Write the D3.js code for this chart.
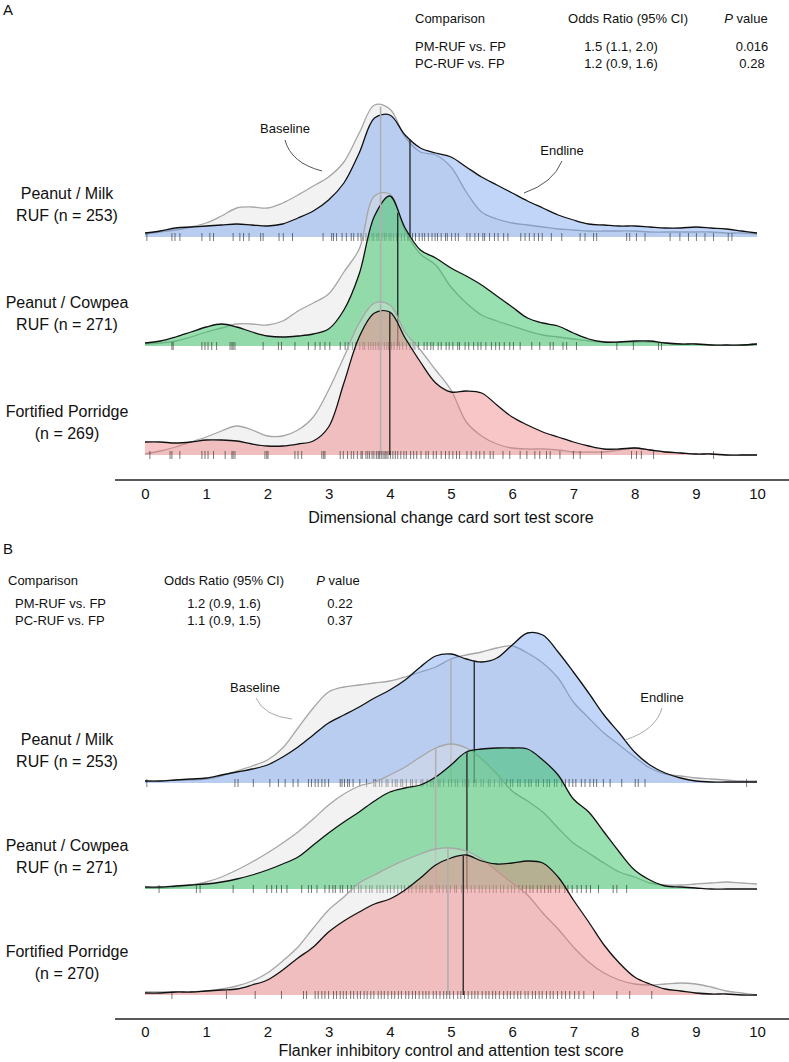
<!DOCTYPE html>
<html><head><meta charset="utf-8">
<script src="https://cdn.jsdelivr.net/npm/d3@7"></script>
<style>
body{margin:0;background:#fff}
svg{display:block}
text{font-family:"Liberation Sans",Arial,Helvetica,sans-serif;fill:#111}
</style>
</head><body>
<svg id="chart" width="789" height="1062"></svg>
<script>
// ---------------- DATA ----------------
const groups = ["Peanut / Milk", "Peanut / Cowpea", "Fortified Porridge"];
const groupLabelsA = [["Peanut / Milk", "RUF (n = 253)"], ["Peanut / Cowpea", "RUF (n = 271)"], ["Fortified Porridge", "(n = 269)"]];
const groupLabelsB = [["Peanut / Milk", "RUF (n = 253)"], ["Peanut / Cowpea", "RUF (n = 271)"], ["Fortified Porridge", "(n = 270)"]];
const xTicks = [0,1,2,3,4,5,6,7,8,9,10];
const scoreGrid = [0,0.25,0.5,0.75,1,1.25,1.5,1.75,2,2.25,2.5,2.75,3,3.25,3.5,3.75,4,4.25,4.5,4.75,5,5.25,5.5,5.75,6,6.25,6.5,6.75,7,7.25,7.5,7.75,8,8.25,8.5,8.75,9,9.25,9.5,9.75,10];

// Panel A: Dimensional change card sort — densities on scoreGrid
const dccsBaselinePM = [0.012,0.02,0.028,0.04,0.056,0.084,0.116,0.12,0.116,0.136,0.168,0.204,0.24,0.3,0.416,0.528,0.512,0.4,0.34,0.328,0.28,0.18,0.1,0.072,0.056,0.048,0.04,0.032,0.028,0.024,0.024,0.024,0.024,0.02,0.02,0.02,0.02,0.02,0.016,0.016,0.012];
const dccsEndlinePM  = [0.016,0.024,0.036,0.04,0.044,0.048,0.052,0.048,0.044,0.052,0.076,0.104,0.148,0.216,0.336,0.476,0.488,0.408,0.356,0.336,0.32,0.28,0.24,0.208,0.176,0.144,0.116,0.088,0.068,0.052,0.048,0.044,0.044,0.04,0.036,0.036,0.04,0.036,0.032,0.024,0.016];
const dccsBaselinePC = [0.008,0.012,0.02,0.036,0.056,0.072,0.088,0.088,0.084,0.1,0.14,0.172,0.208,0.296,0.388,0.6,0.608,0.46,0.368,0.324,0.236,0.172,0.124,0.1,0.08,0.06,0.044,0.036,0.028,0.02,0.016,0.016,0.016,0.016,0.012,0.008,0.008,0.004,0.004,0.004,0.008];
const dccsEndlinePC  = [0.012,0.02,0.036,0.056,0.076,0.088,0.076,0.056,0.04,0.036,0.04,0.048,0.068,0.144,0.288,0.52,0.6,0.472,0.384,0.352,0.312,0.28,0.244,0.2,0.156,0.112,0.092,0.08,0.052,0.028,0.016,0.016,0.02,0.02,0.012,0.008,0.008,0.004,0.004,0.004,0.008];
const dccsBaselineFP = [0.004,0.016,0.032,0.052,0.072,0.096,0.116,0.1,0.076,0.076,0.1,0.152,0.26,0.392,0.528,0.608,0.6,0.492,0.42,0.34,0.26,0.132,0.076,0.044,0.028,0.024,0.024,0.02,0.012,0.012,0.012,0.02,0.028,0.02,0.012,0.008,0.004,0.004,0,0,0];
const dccsEndlineFP  = [0.052,0.052,0.048,0.052,0.06,0.06,0.056,0.044,0.036,0.036,0.044,0.056,0.112,0.288,0.472,0.568,0.572,0.468,0.372,0.288,0.252,0.256,0.248,0.2,0.152,0.12,0.092,0.072,0.052,0.036,0.024,0.024,0.028,0.02,0.012,0.008,0.004,0.004,0,0,0];
const dccsMedBaseline = [3.85, 3.85, 3.85];
const dccsMedEndline  = [4.33, 4.13, 4.0];

// Panel B: Flanker — densities on scoreGrid
const flkBaselinePM = [0.004,0.004,0.006,0.006,0.008,0.014,0.024,0.034,0.046,0.07,0.11,0.15,0.182,0.192,0.196,0.2,0.204,0.212,0.222,0.232,0.248,0.256,0.262,0.27,0.274,0.26,0.24,0.21,0.162,0.13,0.1,0.076,0.052,0.03,0.018,0.014,0.01,0.008,0.006,0.004,0.004];
const flkEndlinePM  = [0.004,0.004,0.006,0.008,0.01,0.016,0.022,0.028,0.036,0.052,0.072,0.096,0.12,0.136,0.152,0.17,0.186,0.206,0.232,0.254,0.258,0.248,0.242,0.25,0.276,0.3,0.296,0.262,0.222,0.18,0.136,0.1,0.062,0.036,0.02,0.01,0.004,0.002,0.002,0.002,0.002];
const flkBaselinePC = [0.002,0.002,0.004,0.008,0.014,0.024,0.038,0.054,0.072,0.092,0.114,0.14,0.168,0.19,0.206,0.214,0.228,0.244,0.264,0.282,0.29,0.282,0.26,0.23,0.196,0.176,0.154,0.122,0.092,0.072,0.052,0.034,0.024,0.012,0.008,0.008,0.01,0.012,0.014,0.012,0.01];
const flkEndlinePC  = [0.004,0.004,0.006,0.008,0.01,0.014,0.02,0.028,0.038,0.05,0.064,0.088,0.112,0.134,0.154,0.176,0.194,0.202,0.208,0.224,0.248,0.274,0.28,0.282,0.282,0.28,0.258,0.228,0.18,0.154,0.114,0.074,0.038,0.018,0.006,0.004,0.002,0,0,0,0];
const flkBaselineFP = [0.006,0.006,0.006,0.006,0.008,0.012,0.018,0.028,0.044,0.068,0.096,0.134,0.17,0.196,0.224,0.24,0.256,0.27,0.282,0.292,0.294,0.288,0.272,0.248,0.224,0.2,0.164,0.132,0.096,0.066,0.044,0.03,0.022,0.02,0.022,0.024,0.022,0.016,0.008,0.004,0];
const flkEndlineFP  = [0.004,0.004,0.006,0.006,0.008,0.01,0.012,0.02,0.03,0.05,0.074,0.096,0.126,0.148,0.166,0.182,0.192,0.21,0.234,0.26,0.274,0.28,0.268,0.262,0.264,0.268,0.264,0.236,0.19,0.146,0.1,0.064,0.036,0.022,0.012,0.008,0.004,0.002,0.002,0,0];
const flkMedBaseline = [5.0, 4.75, 4.95];
const flkMedEndline  = [5.38, 5.26, 5.2];

// Rug (individual scores)
const dccsRugPM = [0.03,0.44,0.49,0.57,0.93,1.06,1.12,1.44,1.55,1.61,1.7,1.89,1.93,2.19,2.26,2.41,2.91,3.05,3.08,3.13,3.22,3.29,3.37,3.41,3.48,3.53,3.57,3.61,3.66,3.71,3.74,3.79,3.82,3.85,3.87,3.91,3.94,3.99,4.02,4.06,4.11,4.13,4.19,4.24,4.29,4.31,4.37,4.42,4.48,4.53,4.57,4.63,4.69,4.74,4.78,4.84,4.91,4.94,5.01,5.07,5.12,5.26,5.31,5.39,5.45,5.52,5.55,5.63,5.71,5.77,5.86,5.93,6.14,6.21,6.28,6.36,6.43,6.49,6.64,6.81,7.11,7.19,7.33,7.38,7.87,7.92,8.03,8.17,8.58,8.74,8.88,9.01,9.15,9.29,9.53,9.59];
const dccsRugPC = [0.44,0.46,0.93,0.98,1.03,1.09,1.17,1.39,1.42,1.44,1.47,1.93,2.18,2.23,2.45,2.67,2.78,2.86,2.94,3.02,3.19,3.27,3.32,3.39,3.44,3.51,3.56,3.59,3.65,3.69,3.73,3.77,3.81,3.84,3.86,3.91,3.95,3.98,4.03,4.07,4.12,4.16,4.21,4.27,4.33,4.38,4.41,4.47,4.56,4.61,4.67,4.71,4.79,4.84,4.92,4.97,5.03,5.11,5.14,5.23,5.29,5.37,5.44,5.49,5.57,5.66,5.73,5.79,5.87,5.96,6.02,6.13,6.32,6.45,6.62,6.67,6.83,6.89,7.05,7.71,7.98,8.39,8.44];
const dccsRugFP = [0.08,0.41,0.44,0.57,0.93,0.98,1.03,1.12,1.31,1.42,1.44,1.47,1.96,1.99,2.01,2.45,2.5,2.56,2.89,2.92,2.94,3.19,3.24,3.31,3.37,3.41,3.47,3.53,3.55,3.61,3.64,3.67,3.71,3.74,3.78,3.81,3.83,3.86,3.89,3.92,3.94,3.97,4.01,4.05,4.09,4.13,4.18,4.23,4.27,4.34,4.39,4.44,4.51,4.59,4.63,4.71,4.76,4.84,4.91,4.97,5.03,5.09,5.14,5.26,5.33,5.41,5.47,5.54,5.64,5.69,5.85,5.96,6.13,6.24,6.37,6.45,6.56,6.62,6.78,7.0,7.11,7.46,7.95,8.03,8.11,8.31,9.29];
const flkRugPM = [0.03,1.47,1.52,1.77,2.04,2.18,2.29,2.42,2.5,2.67,2.72,2.78,2.83,2.89,2.94,3.0,3.19,3.22,3.26,3.31,3.34,3.4,3.51,3.62,3.74,3.77,3.83,3.87,3.94,3.97,4.04,4.09,4.12,4.18,4.21,4.27,4.34,4.37,4.43,4.51,4.54,4.61,4.67,4.71,4.79,4.82,4.88,4.96,5.01,5.07,5.11,5.19,5.23,5.29,5.37,5.41,5.49,5.53,5.61,5.64,5.71,5.79,5.83,5.91,5.97,6.01,6.09,6.13,6.21,6.27,6.31,6.39,6.43,6.51,6.57,6.61,6.69,6.73,6.81,6.87,6.93,6.99,7.04,7.13,7.19,7.27,7.33,7.38,7.49,7.6,7.79,8.01,8.06,8.17,9.83];
const flkRugPC = [0.23,0.84,0.9,1.44,1.77,1.99,2.07,2.15,2.23,2.32,2.56,2.67,2.72,2.81,2.94,3.01,3.07,3.11,3.19,3.23,3.31,3.37,3.42,3.49,3.53,3.61,3.67,3.71,3.79,3.84,3.89,3.96,4.01,4.07,4.13,4.19,4.24,4.31,4.36,4.43,4.49,4.53,4.59,4.66,4.69,4.77,4.81,4.87,4.93,4.99,5.06,5.09,5.17,5.21,5.27,5.33,5.39,5.46,5.51,5.57,5.63,5.69,5.74,5.81,5.86,5.93,5.99,6.04,6.11,6.17,6.23,6.29,6.34,6.41,6.47,6.53,6.59,6.63,6.71,6.77,6.86,6.91,6.98,7.06,7.13,7.21,7.28,7.41,7.65,7.71,7.87];
const flkRugFP = [0.44,1.33,1.8,2.23,2.59,2.64,2.78,2.83,2.89,2.94,3.0,3.08,3.13,3.19,3.24,3.29,3.36,3.41,3.47,3.52,3.58,3.63,3.69,3.74,3.81,3.86,3.91,3.97,4.03,4.08,4.14,4.19,4.26,4.31,4.37,4.42,4.48,4.54,4.59,4.64,4.71,4.76,4.82,4.88,4.93,4.98,5.04,5.11,5.16,5.22,5.28,5.34,5.39,5.44,5.51,5.57,5.62,5.68,5.73,5.79,5.86,5.92,5.97,6.03,6.09,6.14,6.21,6.26,6.33,6.38,6.44,6.49,6.56,6.62,6.67,6.74,6.81,6.87,6.94,7.02,7.09,7.17,7.33,7.71,7.92,8.28];

// Tables
const tableHeader = ["Comparison", "Odds Ratio (95% CI)", "value"];
const comparisons = ["PM-RUF vs. FP", "PC-RUF vs. FP"];
const oddsA = ["1.5 (1.1, 2.0)", "1.2 (0.9, 1.6)"];
const pA = ["0.016", "0.28"];
const oddsB = ["1.2 (0.9, 1.6)", "1.1 (0.9, 1.5)"];
const pB = ["0.22", "0.37"];
const axisTitles = ["Dimensional change card sort test score", "Flanker inhibitory control and attention test score"];

// ---------------- DRAW ----------------
const svg = d3.select("#chart");
const fills = ["rgba(100,149,237,0.4)", "rgba(49,193,97,0.5)", "rgba(237,112,112,0.4)"];
const x = d3.scaleLinear().domain([0, 10]).range([145, 757]);

function densAt(arr, v) {
  const p = v / 0.25, i = Math.floor(p), t = p - i;
  if (i >= arr.length - 1) return arr[arr.length - 1];
  return arr[i] * (1 - t) + arr[i + 1] * t;
}

function panel(cfg) {
  const g = svg.append("g");
  const yBand = d3.scalePoint().domain(groups).range(cfg.yRange);
  const h = d3.scaleLinear().domain([0, 1]).range([0, cfg.hScale]);

  groups.forEach((grp, gi) => {
    const y0 = yBand(grp);
    const area = d3.area()
      .x((d, i) => x(scoreGrid[i]))
      .y0(y0)
      .y1(d => y0 - h(d))
      .curve(d3.curveCatmullRom);
    const line = d3.line()
      .x((d, i) => x(scoreGrid[i]))
      .y(d => y0 - h(d))
      .curve(d3.curveCatmullRom);
    const base = cfg.baseline[gi], end = cfg.endline[gi];

    // baseline density
    g.append("path").attr("d", area(base)).attr("fill", "rgba(222,222,222,0.4)");
    g.append("path").attr("d", line(base)).attr("fill", "none").attr("stroke", "#a6a6a6").attr("stroke-width", 1.3);
    // endline density
    g.append("path").attr("d", area(end)).attr("fill", fills[gi]);
    g.append("path").attr("d", line(end)).attr("fill", "none").attr("stroke", "#111").attr("stroke-width", 1.3);

    // median lines
    const mb = cfg.medBase[gi], me = cfg.medEnd[gi];
    g.append("line").attr("x1", x(mb)).attr("x2", x(mb)).attr("y1", y0).attr("y2", y0 - h(densAt(base, mb)))
      .attr("stroke", "#b0b0b0").attr("stroke-width", 1.6);
    g.append("line").attr("x1", x(me)).attr("x2", x(me)).attr("y1", y0).attr("y2", y0 - h(densAt(end, me)))
      .attr("stroke", "#222").attr("stroke-width", 1.3);

    // rug
    g.append("g").selectAll("line").data(cfg.rug[gi]).join("line")
      .attr("x1", d => x(d)).attr("x2", d => x(d))
      .attr("y1", y0 - 4).attr("y2", y0 + 4)
      .attr("stroke", "#222").attr("stroke-opacity", 0.6).attr("stroke-width", 1);

    // category labels
    const lab = cfg.labels[gi];
    g.append("text").attr("x", 67).attr("y", y0 - cfg.labOff[0]).attr("text-anchor", "middle")
      .attr("font-size", 16).text(lab[0]);
    g.append("text").attr("x", 67).attr("y", y0 - cfg.labOff[1]).attr("text-anchor", "middle")
      .attr("font-size", 16).text(lab[1]);
  });

  // x axis
  g.append("line").attr("x1", 115).attr("x2", 789).attr("y1", cfg.axisY).attr("y2", cfg.axisY)
    .attr("stroke", "#222").attr("stroke-width", 1.4);
  const ax = g.append("g").attr("transform", `translate(0,${cfg.axisY})`)
    .call(d3.axisBottom(x).tickValues(xTicks).tickSize(0).tickPadding(cfg.tickPad).tickFormat(d3.format("d")));
  ax.select(".domain").remove();
  ax.selectAll("text").attr("font-size", 15).attr("fill", "#111")
    .style("font-family", '"Liberation Sans",Arial,sans-serif');
  g.append("text").attr("x", 451).attr("y", cfg.axisY + cfg.titleOff).attr("text-anchor", "middle")
    .attr("font-size", 16).text(cfg.title);

  // table
  const T = cfg.table;
  g.append("text").attr("x", T.c1h).attr("y", T.yh).attr("font-size", 13).text(tableHeader[0]);
  g.append("text").attr("x", T.c2).attr("y", T.yh).attr("font-size", 13).attr("text-anchor", "middle").text(tableHeader[1]);
  const pt = g.append("text").attr("x", T.c3h).attr("y", T.yh).attr("font-size", 13).attr("text-anchor", "middle");
  pt.append("tspan").attr("font-style", "italic").text("P");
  pt.append("tspan").text(" " + tableHeader[2]);
  comparisons.forEach((c, i) => {
    const yy = T.yr[i];
    g.append("text").attr("x", T.c1r).attr("y", yy).attr("font-size", 13).text(c);
    g.append("text").attr("x", T.c2r).attr("y", yy).attr("font-size", 13).attr("text-anchor", "middle").text(cfg.odds[i]);
    g.append("text").attr("x", T.c3r).attr("y", yy).attr("font-size", 13).attr("text-anchor", "middle").text(cfg.pv[i]);
  });

  // annotations
  cfg.notes.forEach(n => {
    g.append("text").attr("x", n.tx).attr("y", n.ty).attr("text-anchor", "middle").attr("font-size", 13).text(n.text);
    g.append("path").attr("d", n.path).attr("fill", "none").attr("stroke", n.color).attr("stroke-width", 1);
  });

  // panel letter
  g.append("text").attr("x", 3).attr("y", cfg.letterY).attr("font-size", 15).text(cfg.letter);
}

panel({
  letter: "A", letterY: 15,
  yRange: [237, 455], hScale: 250,
  baseline: [dccsBaselinePM, dccsBaselinePC, dccsBaselineFP],
  endline: [dccsEndlinePM, dccsEndlinePC, dccsEndlineFP],
  medBase: dccsMedBaseline, medEnd: dccsMedEndline,
  rug: [dccsRugPM, dccsRugPC, dccsRugFP],
  labels: groupLabelsA, labOff: [38, 16],
  axisY: 480, tickPad: 8, titleOff: 43, title: axisTitles[0],
  table: {c1h: 415, c1r: 415, c2: 628, c2r: 621, c3h: 746, c3r: 752, yh: 23, yr: [51, 68]},
  odds: oddsA, pv: pA,
  notes: [
    {text: "Baseline", tx: 285, ty: 133, path: "M285,140 Q291,163 322,171", color: "#555"},
    {text: "Endline", tx: 562, ty: 155, path: "M562,161 Q553,183 524,193", color: "#555"}
  ]
});

panel({
  letter: "B", letterY: 554,
  yRange: [783, 995], hScale: 500,
  baseline: [flkBaselinePM, flkBaselinePC, flkBaselineFP],
  endline: [flkEndlinePM, flkEndlinePC, flkEndlineFP],
  medBase: flkMedBaseline, medEnd: flkMedEndline,
  rug: [flkRugPM, flkRugPC, flkRugFP],
  labels: groupLabelsB, labOff: [38, 16],
  axisY: 1019, tickPad: 7, titleOff: 37, title: axisTitles[1],
  table: {c1h: 8, c1r: 15, c2: 224, c2r: 224, c3h: 338, c3r: 340, yh: 585, yr: [608, 625]},
  odds: oddsB, pv: pB,
  notes: [
    {text: "Baseline", tx: 255, ty: 692, path: "M256,698 Q264,716 292,719", color: "#aaa"},
    {text: "Endline", tx: 662, ty: 702, path: "M662,708 Q656,730 625,740", color: "#aaa"}
  ]
});
</script>
</body></html>
